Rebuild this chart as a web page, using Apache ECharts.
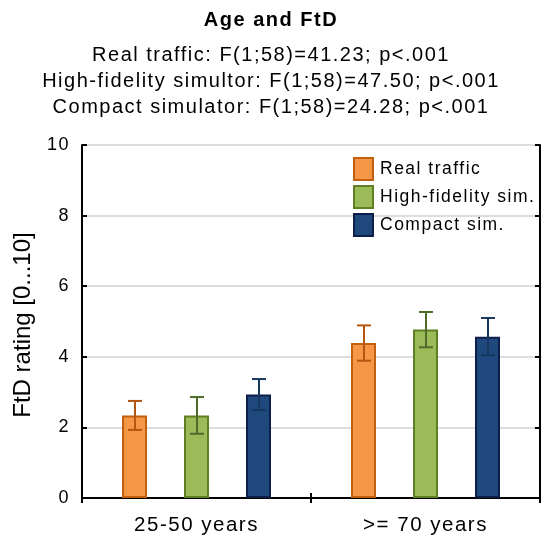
<!DOCTYPE html>
<html>
<head>
<meta charset="utf-8">
<script src="https://cdn.jsdelivr.net/npm/echarts@6/dist/echarts.min.js"></script>
<style>
  html, body { margin: 0; padding: 0; background: #fff; }
  #chart { width: 542px; height: 541px; }
</style>
</head>
<body>
<div id="chart"></div>
<script>
// Age groups on the x axis
var categories = ['25-50 years', '>= 70 years'];
var seriesNames = ['Real traffic', 'High-fidelity sim.', 'Compact sim.'];

// Mean FtD ratings per group
var realTraffic = [2.34, 4.39];
var highFidelity = [2.34, 4.77];
var compactSim = [2.93, 4.57];

// Error bar half-widths (±)
var realTrafficErr = [0.41, 0.50];
var highFidelityErr = [0.52, 0.50];
var compactSimErr = [0.44, 0.53];

var yTicks = [0, 2, 4, 6, 8, 10];

var titleText = 'Age and FtD';
var statLines = [
  'Real traffic: F(1;58)=41.23; p<.001',
  'High-fidelity simultor: F(1;58)=47.50; p<.001',
  'Compact simulator: F(1;58)=24.28; p<.001'
];

// Slightly open tracking for the horizontal chart text (large axis name keeps normal spacing)
(function () {
  var proto = CanvasRenderingContext2D.prototype;
  var fill = proto.fillText, measure = proto.measureText;
  function track(ctx) {
    var m = /(\d+(?:\.\d+)?)px/.exec(ctx.font);
    var size = m ? parseFloat(m[1]) : 12;
    ctx.letterSpacing = size >= 23 ? '0px' : '1.5px';
  }
  proto.fillText = function () { track(this); return fill.apply(this, arguments); };
  proto.measureText = function () { track(this); return measure.apply(this, arguments); };
})();

var FONT = '"Liberation Sans", Arial, sans-serif';
var fills = ['#F79646', '#9BBB59', '#1F497D'];
var borders = ['#C2600F', '#5F7F24', '#0E1E4A'];
var errColors = ['#B5560E', '#4E6B2A', '#17375E'];
var BAR_W = 25;
var BAR_STEP = 62;

var means = [realTraffic, highFidelity, compactSim];
var errs = [realTrafficErr, highFidelityErr, compactSimErr];

var chart = echarts.init(document.getElementById('chart'), null, { renderer: 'canvas' });

var series = [];
seriesNames.forEach(function (name, i) {
  series.push({
    name: name,
    type: 'bar',
    data: means[i],
    barWidth: BAR_W,
    barGap: ((BAR_STEP - BAR_W) / BAR_W * 100) + '%',
    itemStyle: { color: fills[i], borderColor: borders[i], borderWidth: 2 },
    z: 2
  });
});
seriesNames.forEach(function (name, i) {
  var offset = BAR_STEP * (i - 1);
  series.push({
    type: 'custom',
    name: name + ' err',
    data: means[i].map(function (m, k) { return [k, m - errs[i][k], m + errs[i][k]]; }),
    z: 5,
    silent: true,
    renderItem: function (params, api) {
      var k = api.value(0);
      var lo = api.coord([k, api.value(1)]);
      var hi = api.coord([k, api.value(2)]);
      var x = Math.round(lo[0] + offset);
      var half = 7;
      var st = { stroke: errColors[i], lineWidth: 2, fill: null };
      return {
        type: 'group',
        children: [
          { type: 'line', shape: { x1: x, y1: hi[1], x2: x, y2: lo[1] }, style: st },
          { type: 'line', shape: { x1: x - half, y1: hi[1], x2: x + half, y2: hi[1] }, style: st },
          { type: 'line', shape: { x1: x - half, y1: lo[1], x2: x + half, y2: lo[1] }, style: st }
        ]
      };
    }
  });
});

var titles = [{
  text: titleText, left: 'center', top: 10, padding: 0,
  textStyle: { fontFamily: FONT, fontSize: 20, fontWeight: 'bold', color: '#000' }
}];
statLines.forEach(function (t, j) {
  titles.push({
    text: t, left: 'center', top: 45 + j * 26, padding: 0,
    textStyle: { fontFamily: FONT, fontSize: 20, fontWeight: 'normal', color: '#000' }
  });
});

var frameLine = { show: true, lineStyle: { color: '#000', width: 2 } };
var innerTick = { show: true, inside: true, length: 5, lineStyle: { color: '#000', width: 2 } };

chart.setOption({
  animation: false,
  title: titles,
  grid: { left: 82, right: 2, top: 145, bottom: 43, containLabel: false },
  legend: {
    orient: 'vertical',
    left: 353, top: 157, padding: 0,
    icon: 'rect',
    itemWidth: 19, itemHeight: 22, itemGap: 4,
    data: seriesNames,
    textStyle: { fontFamily: FONT, fontSize: 17.5, color: '#000', padding: [0, 0, 0, 2] }
  },
  xAxis: [{
    type: 'category',
    data: categories,
    axisLine: frameLine,
    axisTick: innerTick,
    axisLabel: { fontFamily: FONT, fontSize: 20.5, color: '#000', margin: 16 }
  }, {
    type: 'category',
    data: categories,
    position: 'top',
    axisLine: frameLine,
    axisTick: innerTick,
    axisLabel: { show: false }
  }],
  yAxis: [{
    type: 'value',
    min: 0, max: 10, interval: 2,
    name: 'FtD rating [0...10]',
    nameLocation: 'middle',
    nameGap: 47,
    nameTextStyle: { fontFamily: FONT, fontSize: 24, color: '#000', padding: [0, 7, 0, 0] },
    axisLine: frameLine,
    axisTick: innerTick,
    axisLabel: {
      fontFamily: FONT, fontSize: 18, color: '#000', margin: 12,
      formatter: function (v) { return yTicks.indexOf(v) >= 0 ? String(v) : ''; }
    },
    splitLine: { show: true, lineStyle: { color: '#DDDDDD', width: 2 } }
  }, {
    type: 'value',
    min: 0, max: 10, interval: 2,
    position: 'right',
    axisLine: frameLine,
    axisTick: innerTick,
    axisLabel: { show: false },
    splitLine: { show: false }
  }],
  series: series
});
</script>
</body>
</html>
